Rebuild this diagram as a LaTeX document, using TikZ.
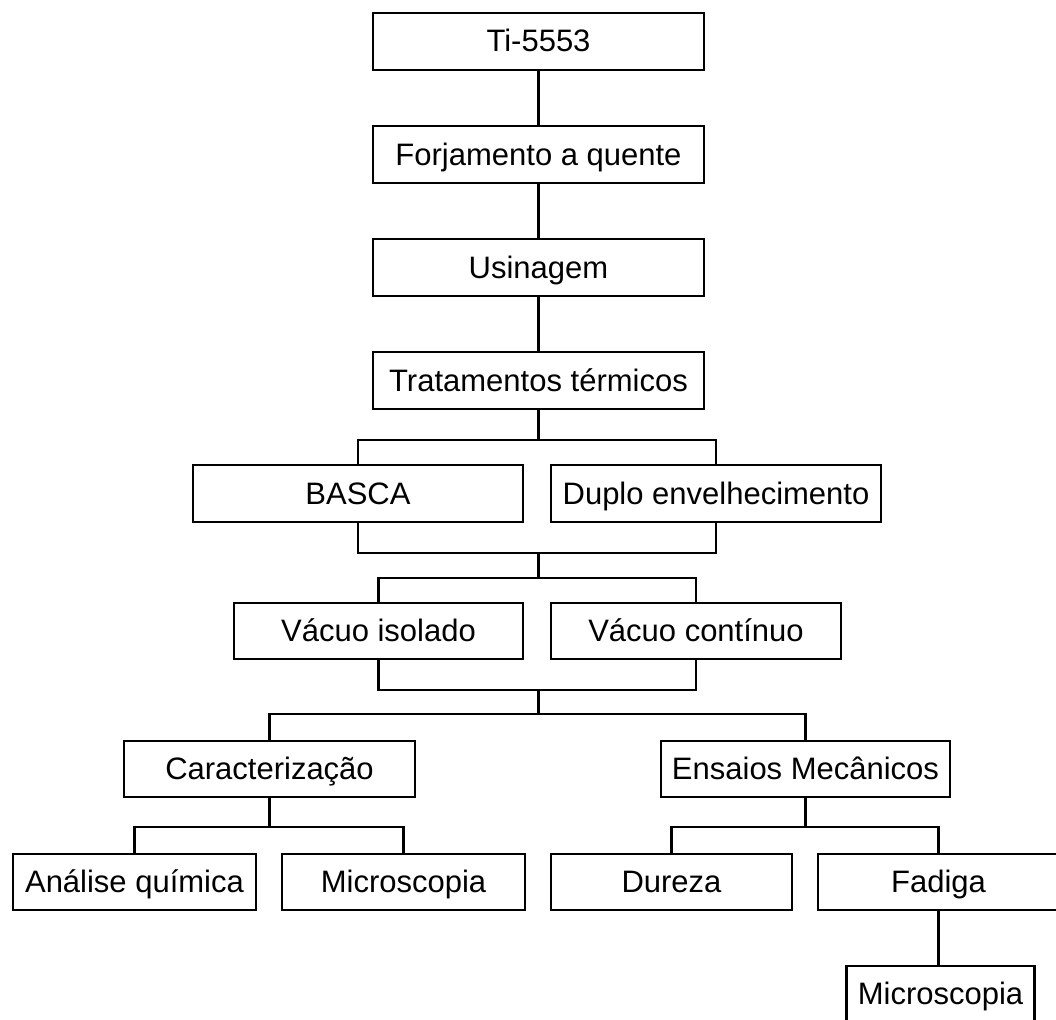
\documentclass[tikz,border=0pt]{standalone}
\usepackage{fontspec}
\setmainfont{Liberation Sans}
\usetikzlibrary{positioning, calc}

\begin{document}
\begin{tikzpicture}[x=1pt, y=-1pt, line width=2.2pt,
    etapa/.style={draw, inner sep=0pt, minimum height=56, text height=22pt, text depth=1pt,
        font=\fontsize{31}{37}\selectfont}]
    \useasboundingbox (0,0) rectangle (1056,1019);

    \node[etapa, minimum width=331, minimum height=57] (ti) at (538.5,41.5) {Ti-5553};
    \node[etapa, minimum width=331, minimum height=57] (forj) at (538.5,154.5) {Forjamento a quente};
    \node[etapa, minimum width=331, minimum height=57] (usin) at (538.5,267.5) {Usinagem};
    \node[etapa, minimum width=331, minimum height=57] (trat) at (538.5,380.5) {Tratamentos térmicos};

    \node[etapa, minimum width=330, minimum height=57] (basca) at (358,493.5) {BASCA};
    \node[etapa, minimum width=330, minimum height=57] (duplo) at (716,493.5) {Duplo envelhecimento};

    \node[etapa, minimum width=289] (vacisol) at (378.5,631) {Vácuo isolado};
    \node[etapa, minimum width=290] (vaccont) at (696,631) {Vácuo contínuo};

    \node[etapa, minimum width=291] (carac) at (269.5,769) {Caracterização};
    \node[etapa, minimum width=289] (ensaios) at (805.5,769) {Ensaios Mecânicos};

    \node[etapa, minimum width=243] (analise) at (134.5,882) {Análise química};
    \node[etapa, minimum width=243] (micro1) at (403.5,882) {Microscopia};
    \node[etapa, minimum width=241] (dureza) at (671.5,882) {Dureza};
    \node[etapa, minimum width=241] (fadiga) at (938.5,882) {Fadiga};
    \node[etapa, minimum width=188] (micro2) at (940.5,994) {Microscopia};

    \coordinate (j1) at (538.5,440);
    \coordinate (j2) at (538.5,553);
    \coordinate (j3) at (538.5,578);
    \coordinate (j4) at (538.5,690);
    \coordinate (j5) at (538.5,714);
    \coordinate (j6) at (269.5,827);
    \coordinate (j7) at (805.5,827);

    \draw (ti) -- (forj);
    \draw (forj) -- (usin);
    \draw (usin) -- (trat);

    \draw (trat) -- (j1);
    \draw (basca.north) |- (j1) -| (duplo.north);
    \draw (basca.south) |- (j2) -| (duplo.south);
    \draw (j2) -- (j3);
    \draw (vacisol.north) |- (j3) -| (vaccont.north);
    \draw (vacisol.south) |- (j4) -| (vaccont.south);
    \draw (j4) -- (j5);
    \draw (carac.north) |- (j5) -| (ensaios.north);

    \draw (carac) -- (j6);
    \draw (analise.north) |- (j6) -| (micro1.north);
    \draw (ensaios) -- (j7);
    \draw (dureza.north) |- (j7) -| (fadiga.north);
    \draw (fadiga.south) -- (fadiga.south |- micro2.north);
\end{tikzpicture}
\end{document}
